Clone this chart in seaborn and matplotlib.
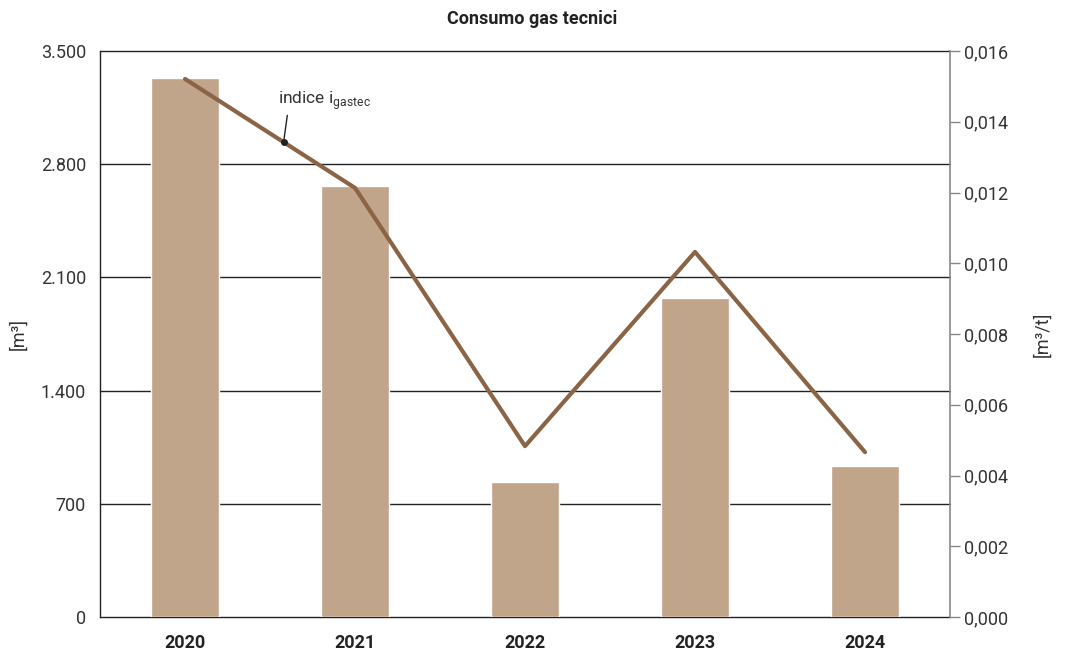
import matplotlib
matplotlib.use('Agg')
import matplotlib.pyplot as plt
from matplotlib.ticker import FuncFormatter
import seaborn as sns
import pandas as pd

years = ['2020', '2021', '2022', '2023', '2024']
consumo_m3 = [3333, 2665, 835, 1973, 934]
indice_m3_t = [0.01521, 0.01213, 0.00483, 0.01032, 0.00466]

bar_color = '#C1A58B'
line_color = '#8B6445'
text_color = '#333333'

sns.set_style('white')
plt.rcParams['font.family'] = ['Roboto', 'DejaVu Sans']

df = pd.DataFrame({'anno': years, 'consumo': consumo_m3, 'indice': indice_m3_t})

fig = plt.figure(figsize=(10.65, 6.57), dpi=100)
ax = fig.add_axes([100 / 1065, 1 - 617 / 657, 850 / 1065, 566 / 657])

sns.barplot(data=df, x='anno', y='consumo', color=bar_color, width=0.4,
            saturation=1, ax=ax, zorder=2)
ax.set_ylim(0, 3500)
ax.set_xlim(-0.5, 4.5)
ax.set_yticks([0, 700, 1400, 2100, 2800, 3500])
ax.yaxis.set_major_formatter(FuncFormatter(lambda v, p: f'{int(v):,}'.replace(',', '.')))
for t in ax.get_yticks():
    ax.axhline(t, color='#222222', lw=1, zorder=1, clip_on=False)
ax.set_xlabel('')
ax.set_ylabel('[m³]', fontsize=13, color=text_color, labelpad=10)
ax.tick_params(axis='y', length=0, labelsize=13, labelcolor=text_color, pad=10)
ax.tick_params(axis='x', length=0, labelsize=13, pad=12)
for lab in ax.get_xticklabels():
    lab.set_fontweight('bold')
    lab.set_color('#222222')
for s in ['top', 'right', 'bottom']:
    ax.spines[s].set_visible(False)
ax.spines['left'].set_color('#222222')
ax.spines['left'].set_linewidth(1)
ax.spines['left'].set_zorder(5)

ax2 = ax.twinx()
sns.lineplot(data=df, x='anno', y='indice', color=line_color, lw=3, ax=ax2, zorder=3)
ax2.set_ylim(0, 0.016)
ax2.set_yticks([0, 0.002, 0.004, 0.006, 0.008, 0.010, 0.012, 0.014, 0.016])
ax2.yaxis.set_major_formatter(FuncFormatter(lambda v, p: f'{v:.3f}'.replace('.', ',')))
ax2.tick_params(axis='y', length=7, width=1, color='#888888', labelsize=13,
                labelcolor=text_color, pad=3)
ax2.set_ylabel('[m³/t]', fontsize=13, color=text_color, rotation=90, labelpad=18)
for s in ['top', 'left', 'bottom']:
    ax2.spines[s].set_visible(False)
ax2.spines['right'].set_color('#888888')
ax2.spines['right'].set_linewidth(1.2)

# annotation on the line between 2020 and 2021
px = 0.58
py = indice_m3_t[0] + (indice_m3_t[1] - indice_m3_t[0]) * px
ax2.plot([px], [py], marker='o', color='#222222', ms=4, zorder=4)
ax2.annotate('indice i$_{\\mathregular{gastec}}$', xy=(px, py), xytext=(0.55, 0.0145),
             fontsize=12.5, color=text_color,
             arrowprops=dict(arrowstyle='-', color='#222222', lw=1,
                             shrinkA=0, shrinkB=0,
                             relpos=(0.1, 0.0)))

fig.suptitle('Consumo gas tecnici', fontsize=13, fontweight='bold',
             color='#222222', y=0.985)

fig.savefig('out.png', dpi=100)
